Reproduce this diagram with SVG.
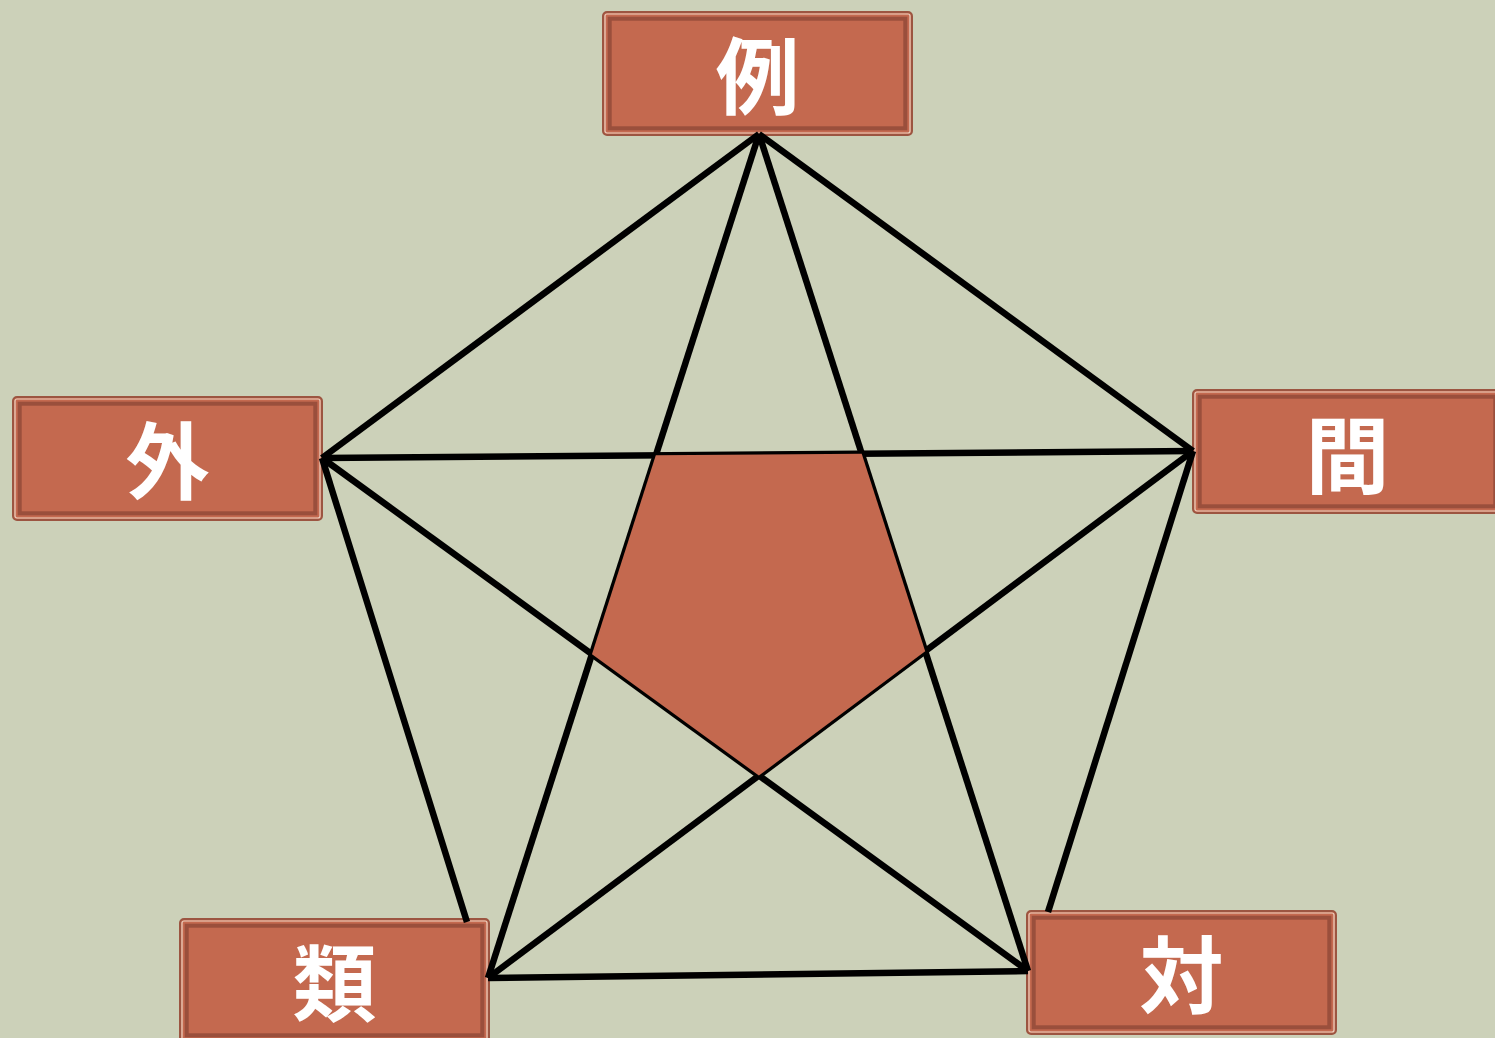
<svg xmlns="http://www.w3.org/2000/svg" width="1495" height="1038" viewBox="0 0 1495 1038">
<style>
.bg{fill:#CCD1B9}
.outer{fill:#C4694F;stroke:#9C5541;stroke-width:2}
.cream{fill:none;stroke:#EBD3C2;stroke-width:1.2}
.band{fill:none;stroke:#9A4F3C;stroke-width:4}
.lbl{font-family:"Noto Sans CJK JP","Noto Sans CJK SC",sans-serif;font-weight:700;font-size:84px;fill:#FFFFFF;text-anchor:middle}
.conn line{stroke:#000;stroke-width:6.5;stroke-linecap:butt}
.core{fill:#C4694F}
</style>
<rect class="bg" x="0" y="0" width="1495" height="1038"/>
<defs>
<g id="box">
<rect class="outer" x="1" y="1" width="309" height="123" rx="4"/>
<rect class="cream" x="3" y="3" width="305" height="119" rx="2"/>
<rect class="band" x="7.7" y="7.7" width="295.6" height="109.6"/>
</g>
</defs>
<g id="node-rei"><use href="#box" x="602" y="11"/><text class="lbl" x="757.5" y="108">例</text></g>
<g id="node-gai"><use href="#box" x="12" y="396"/><text class="lbl" x="167.5" y="493">外</text></g>
<g id="node-kan"><use href="#box" x="1192" y="389"/><text class="lbl" x="1347.5" y="487">間</text></g>
<g id="node-rui"><use href="#box" x="179" y="918"/><text class="lbl" x="334.5" y="1015">類</text></g>
<g id="node-tai"><use href="#box" x="1026" y="910"/><text class="lbl" x="1181.5" y="1007">対</text></g>
<g id="connectors" class="conn">
<line x1="759" y1="134" x2="322" y2="458"/>
<line x1="759" y1="134" x2="1193" y2="451"/>
<line x1="322" y1="458" x2="467" y2="922"/>
<line x1="1193" y1="451" x2="1048" y2="912"/>
<line x1="488" y1="978" x2="1028" y2="971"/>
<line x1="759" y1="134" x2="488" y2="978"/>
<line x1="759" y1="134" x2="1028" y2="971"/>
<line x1="322" y1="458" x2="1193" y2="451"/>
<line x1="322" y1="458" x2="1028" y2="971"/>
<line x1="1193" y1="451" x2="488" y2="978"/>
</g>
<g id="center-pentagon">
<polygon class="core" points="655.8,455.3 861.7,453.7 925.2,651.2 758.9,775.5 592,654.2"/>
</g>
</svg>
